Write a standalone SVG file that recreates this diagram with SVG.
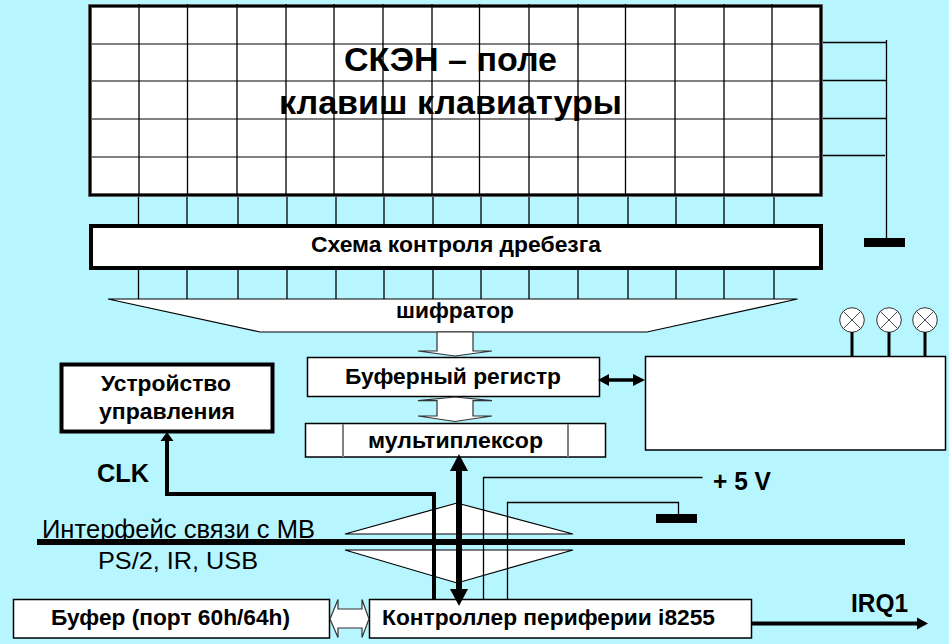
<svg xmlns="http://www.w3.org/2000/svg" width="949" height="644" viewBox="0 0 949 644">
<defs>
<style>
.t{font-family:"Liberation Sans",Arial,sans-serif;font-weight:bold;font-size:22px;fill:#000;text-anchor:start}
.r{font-weight:normal}
.box{fill:#fff;stroke:#000;stroke-width:1.5}
.thick{fill:#fff;stroke:#000;stroke-width:4}
.v{stroke:#000;stroke-width:1.3;fill:none}
.g{stroke:#808080;stroke-width:2;fill:none}
.w{stroke:#333;stroke-width:0.9;fill:none}
.hollow{fill:#fff;stroke:#333;stroke-width:1.2}
.lamp{fill:#fff;stroke:#333;stroke-width:1}
</style>
</defs>
<rect width="949" height="644" fill="#B7F5FF"/>
<g id="wires-top">
<path class="v" d="M138.500 195V225M187 195V225M238 195V225M287 195V225M336 195V225M384 195V225M433 195V225M481 195V225M529 195V225M578 195V225M628 195V225M676 195V225M724 195V225M774 195V225"/>
<path class="v" d="M138.500 268V299M187 268V299M238 268V299M287 268V299M336 268V299M384 268V299M433 268V299M481 268V299M529 268V299M578 268V299M628 268V299M676 268V299M724 268V299M774 268V299"/>
<path class="v" d="M821 42.500H886.500M821 80.500H886.500M821 118.500H886.500M821 155.500H885M886.500 40V238"/>
<rect x="864" y="238" width="41" height="9" fill="#000"/>
</g>
<g id="keyboard">
<rect x="90" y="6" width="731" height="189" fill="#fff" stroke="#808080" stroke-width="4"/>
<path class="g" d="M88 44H822M88 81H822M88 119H822M88 157H822"/>
<path class="v" d="M139 4V195M187.500 4V195M237 4V195M286 4V195M334 4V195M383 4V195M432 4V195M479.500 4V195M529 4V195M578 4V195M625.500 4V195M675 4V195M724 4V195M772 4V195"/>
<rect x="90" y="6" width="731" height="189" fill="none" stroke="#000" stroke-width="2.500"/>
<text class="t" x="344" y="71" style="font-size:34px" textLength="213" lengthAdjust="spacingAndGlyphs">СКЭН – поле</text>
<text class="t" x="279" y="114" style="font-size:34px" textLength="343" lengthAdjust="spacingAndGlyphs">клавиш клавиатуры</text>
</g>
<g id="debounce">
<rect class="thick" x="91" y="226" width="730" height="42"/>
<text class="t" x="311" y="252" textLength="290" lengthAdjust="spacingAndGlyphs">Схема контроля дребезга</text>
</g>
<g id="encoder">
<polygon points="108,299 797.500,299 647,332 260,332" class="hollow" style="stroke:#000"/>
<text class="t" x="396" y="318" textLength="118" lengthAdjust="spacingAndGlyphs">шифратор</text>
</g>
<g id="buffer-register">
<rect class="box" x="307.500" y="357.500" width="292" height="39"/>
<text class="t" x="345" y="384" textLength="216" lengthAdjust="spacingAndGlyphs">Буферный регистр</text>
</g>
<g id="multiplexer">
<rect class="box" x="305.500" y="423.500" width="300" height="33.500"/>
<path class="g" d="M343 424V457M568 424V457"/>
<text class="t" x="368" y="448" textLength="175" lengthAdjust="spacingAndGlyphs">мультиплексор</text>
</g>
<g id="control-unit">
<rect class="thick" x="61.500" y="364.500" width="211" height="67"/>
<text class="t" x="101" y="391" textLength="130" lengthAdjust="spacingAndGlyphs">Устройство</text>
<text class="t" x="99" y="419" textLength="136" lengthAdjust="spacingAndGlyphs">управления</text>
</g>
<g id="indicator-box">
<rect class="box" x="645.500" y="356.500" width="300" height="93.500"/>
</g>
<g id="lamp-1"><circle class="lamp" cx="852" cy="320" r="12.300"/><path class="w" d="M843.300 311.300L860.700 328.700M860.700 311.300L843.300 328.700"/></g>
<g id="lamp-2"><circle class="lamp" cx="889" cy="320" r="12.300"/><path class="w" d="M880.300 311.300L897.700 328.700M897.700 311.300L880.300 328.700"/></g>
<g id="lamp-3"><circle class="lamp" cx="925" cy="320" r="12.300"/><path class="w" d="M916.300 311.300L933.700 328.700M933.700 311.300L916.300 328.700"/></g>
<g id="port-buffer">
<rect class="box" x="13.500" y="599.500" width="316" height="38.500"/>
<text class="t" x="51" y="625" textLength="239" lengthAdjust="spacingAndGlyphs">Буфер (порт 60h/64h)</text>
</g>
<g id="controller">
<rect class="box" x="369.500" y="599.500" width="382" height="38.500"/>
<text class="t" x="382" y="625" textLength="333" lengthAdjust="spacingAndGlyphs">Контроллер периферии i8255</text>
</g>
<g id="labels">
<text class="t r" x="42" y="538" style="font-size:25px" textLength="273" lengthAdjust="spacingAndGlyphs">Интерфейс связи с МВ</text>
<text class="t r" x="98" y="569" style="font-size:24px" textLength="160" lengthAdjust="spacingAndGlyphs">PS/2, IR, USB</text>
<text class="t" x="97" y="482" style="font-size:25px" textLength="52" lengthAdjust="spacingAndGlyphs">CLK</text>
<text class="t" x="713" y="490" style="font-size:25px" textLength="58" lengthAdjust="spacingAndGlyphs">+ 5 V</text>
<text class="t" x="851" y="612" style="font-size:25px" textLength="57" lengthAdjust="spacingAndGlyphs">IRQ1</text>
</g>
<g id="connectors">
<polygon class="hollow" points="437,332 473,332 473,351 492,351 455,356 418,351 437,351"/>
<polygon class="hollow" points="455,397 492,400.700 473,400.700 473,416 492,416 455,421.500 418,416 437,416 437,400.700 418,400.700"/>
<polygon class="hollow" points="330,619 338,599.500 338,609 362,609 362,599.500 369,619 362,637.500 362,628 338,628 338,637.500"/>
<polygon class="hollow" style="stroke:#000" points="345,534 457,503 573,534"/>
<polygon class="hollow" style="stroke:#000" points="345,550 457,583 573,550"/>
<rect x="37" y="539" width="868" height="6" fill="#000"/>
<path d="M434 599V494H167V438" fill="none" stroke="#000" stroke-width="4"/>
<polygon points="167,432 173.500,441 160.500,441" fill="#000"/>
<path d="M459 468V592" fill="none" stroke="#000" stroke-width="6"/>
<polygon points="459,454 468,471 450,471" fill="#000"/>
<polygon points="459,606 468,589 450,589" fill="#000"/>
<path d="M608 380H636" fill="none" stroke="#000" stroke-width="3.500"/>
<polygon points="598,380 609,374 609,386" fill="#000"/>
<polygon points="645,380 633,374 633,386" fill="#000"/>
<path class="v" d="M852 332V356M889 332V356M925 332V356" style="stroke-width:3"/>
<path class="v" d="M483.500 599V477.500H702.500"/>
<path class="v" d="M507.500 599V502.500H678.500V514"/>
<rect x="656" y="514" width="41" height="9" fill="#000"/>
<path d="M752 623.500H920" fill="none" stroke="#000" stroke-width="4"/>
<polygon points="928,623.500 917,617.500 917,629.500" fill="#000"/>
</g>
</svg>
